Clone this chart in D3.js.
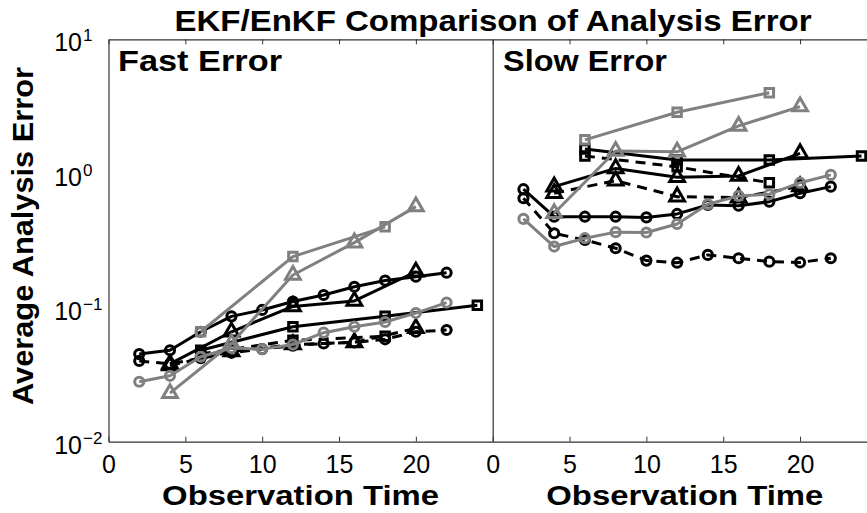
<!DOCTYPE html>
<html>
<head>
<meta charset="utf-8">
<script src="https://cdn.jsdelivr.net/npm/d3@7"></script>
<style>
  html,body{margin:0;padding:0;background:#fff;}
  svg{display:block;}
  text{font-family:"Liberation Sans",Arial,Helvetica,sans-serif;fill:#000;}
</style>
</head>
<body>
<svg id="chart" width="867" height="513"></svg>
<script>
// ---------- data ----------
const tCircle   = [2,4,6,8,10,12,14,16,18,20,22];
const tTriangle = [4,8,12,16,20];
const tSquare   = [6,12,18,24];
const tSquare3  = [6,12,18];

// Fast error panel
const fastSolidCircle  = [0.045,0.048,0.066,0.086,0.096,0.111,0.124,0.143,0.159,0.170,0.182];
const fastDashedCircle = [0.040,0.038,0.042,0.046,0.049,0.052,0.054,0.055,0.058,0.066,0.068];
const fastSolidTri     = [0.038,0.066,0.102,0.112,0.185];
const fastDashedTri    = [0.037,0.047,0.053,0.055,0.070];
const fastSolidSq      = [0.048,0.072,0.086,0.104];
const fastDashedSq     = [0.045,0.057,0.061];
const fastGrayCircle   = [0.028,0.031,0.043,0.050,0.049,0.053,0.065,0.072,0.078,0.091,0.109];
const fastGrayTri      = [0.023,0.054,0.175,0.305,0.566];
const fastGraySq       = [0.066,0.240,0.400];

// Slow error panel
const slowSolidCircle  = [0.763,0.476,0.476,0.476,0.470,0.499,0.582,0.574,0.616,0.712,0.797];
const slowDashedCircle = [0.653,0.358,0.319,0.277,0.224,0.216,0.247,0.233,0.220,0.217,0.233];
const slowSolidTri     = [0.797,1.09,0.937,0.958,1.41];
const slowDashedTri    = [0.712,0.884,0.671,0.660,0.800];
const slowSolidSq      = [1.52,1.26,1.26,1.35];
const slowDashedSq     = [1.35,1.12,0.853];
const slowGrayCircle   = [0.458,0.285,0.329,0.365,0.363,0.420,0.589,0.680,0.700,0.853,0.975];
const slowGrayTri      = [0.505,1.47,1.45,2.26,3.15];
const slowGraySq       = [1.78,2.86,4.00];

const xTicks = [0,5,10,15,20];
const yTicks = [0.01,0.1,1,10];
const yTickExp = ["−2","−1","0","1"];

const titleText = "EKF/EnKF Comparison of Analysis Error";
const panelTitles = ["Fast Error","Slow Error"];
const xLabel = "Observation Time";
const yLabel = "Average Analysis Error";

// ---------- layout ----------
const svg = d3.select("#chart");
const plotTop = 39.3, plotBottom = 441.7;
const panelLeft = [108.5, 492.7];
const panelWidth = 384.2;
const BLACK = "#000", GRAY = "#808080";

const y = d3.scaleLog().domain([0.01,10]).range([plotBottom, plotTop]);
const xs = panelLeft.map(l => d3.scaleLinear().domain([0,25]).range([l, l+panelWidth]));

// series table built from arrays
const series = [
  {p:0,t:tCircle,v:fastSolidCircle,c:BLACK,d:false,m:"circle"},
  {p:0,t:tCircle,v:fastDashedCircle,c:BLACK,d:true,m:"circle"},
  {p:0,t:tTriangle,v:fastSolidTri,c:BLACK,d:false,m:"triangle"},
  {p:0,t:tTriangle,v:fastDashedTri,c:BLACK,d:true,m:"triangle"},
  {p:0,t:tSquare,v:fastSolidSq,c:BLACK,d:false,m:"square"},
  {p:0,t:tSquare3,v:fastDashedSq,c:BLACK,d:true,m:"square"},
  {p:0,t:tCircle,v:fastGrayCircle,c:GRAY,d:false,m:"circle"},
  {p:0,t:tTriangle,v:fastGrayTri,c:GRAY,d:false,m:"triangle"},
  {p:0,t:tSquare3,v:fastGraySq,c:GRAY,d:false,m:"square"},
  {p:1,t:tCircle,v:slowSolidCircle,c:BLACK,d:false,m:"circle"},
  {p:1,t:tCircle,v:slowDashedCircle,c:BLACK,d:true,m:"circle"},
  {p:1,t:tTriangle,v:slowSolidTri,c:BLACK,d:false,m:"triangle"},
  {p:1,t:tTriangle,v:slowDashedTri,c:BLACK,d:true,m:"triangle"},
  {p:1,t:tSquare,v:slowSolidSq,c:BLACK,d:false,m:"square"},
  {p:1,t:tSquare3,v:slowDashedSq,c:BLACK,d:true,m:"square"},
  {p:1,t:tCircle,v:slowGrayCircle,c:GRAY,d:false,m:"circle"},
  {p:1,t:tTriangle,v:slowGrayTri,c:GRAY,d:false,m:"triangle"},
  {p:1,t:tSquare3,v:slowGraySq,c:GRAY,d:false,m:"square"},
];

// ---------- axes ----------
[0,1].forEach(p => {
  const x = xs[p];
  const gb = svg.append("g").attr("transform",`translate(0,${plotBottom})`)
    .call(d3.axisBottom(x).tickValues(xTicks).tickSizeInner(-5).tickSizeOuter(0).tickFormat(d3.format("d")));
  gb.select(".domain").attr("stroke","#333").attr("stroke-width",1.2);
  gb.selectAll(".tick line").attr("stroke","#333").attr("stroke-width",1);
  gb.selectAll(".tick text").attr("y",31.5).attr("dy",null)
    .style("font-size","25px").attr("fill","#000");
  gb.attr("font-family",null).attr("font-size",null);
  const gt = svg.append("g").attr("transform",`translate(0,${plotTop})`)
    .call(d3.axisTop(x).tickValues(xTicks).tickSizeInner(-5).tickSizeOuter(0).tickFormat(""));
  gt.select(".domain").attr("stroke","#333").attr("stroke-width",1.2);
  gt.selectAll(".tick line").attr("stroke","#333").attr("stroke-width",1);
  const gl = svg.append("g").attr("transform",`translate(${panelLeft[p]},0)`)
    .call(d3.axisLeft(y).tickValues(yTicks).tickSize(0).tickFormat(""));
  gl.select(".domain").attr("stroke","#333").attr("stroke-width",1.2);
  gl.selectAll(".tick line").remove();
  gl.selectAll(".tick text").remove();
  if (p === 0) {
    gl.selectAll(".tick").each(function(d){
      const g = d3.select(this);
      g.append("text").attr("x",82-panelLeft[0]).attr("y",11.6)
        .attr("text-anchor","end").style("font-size","25px").text("10");
      g.append("text").attr("x",83-panelLeft[0]).attr("y",1.6)
        .attr("text-anchor","start").style("font-size","17px").text(yTickExp[yTicks.indexOf(d)]);
    });
  }
  gl.attr("font-family",null).attr("font-size",null);
});

// ---------- series ----------
const symTypes = {circle:d3.symbolCircle, triangle:d3.symbolTriangle, square:d3.symbolSquare};
const symSizes = {circle:66, triangle:95, square:72};
const plot = svg.append("g");
series.forEach(s => {
  const x = xs[s.p];
  const pts = s.t.map((t,i)=>[t,s.v[i]]);
  const line = d3.line().x(d=>x(d[0])).y(d=>y(d[1]));
  plot.append("path").datum(pts)
    .attr("d",line).attr("fill","none").attr("stroke",s.c)
    .attr("stroke-width",3).attr("stroke-linejoin","round")
    .attr("stroke-dasharray", s.d ? "10,7" : null);
  const sym = d3.symbol().type(symTypes[s.m]).size(symSizes[s.m]);
  plot.selectAll(null).data(pts).enter().append("path")
    .attr("d",sym)
    .attr("transform",d=>`translate(${x(d[0])},${y(d[1])})`)
    .attr("fill","none").attr("stroke",s.c).attr("stroke-width",3);
});

// ---------- text ----------
svg.append("text").attr("x",493).attr("y",31).attr("text-anchor","middle")
  .style("font-size","30px").style("font-weight","bold")
  .attr("textLength",637).attr("lengthAdjust","spacingAndGlyphs").text(titleText);

[118,503].forEach((xp,i)=>{
  svg.append("text").attr("x",xp).attr("y",71)
    .style("font-size","30px").style("font-weight","bold")
    .attr("textLength",164).attr("lengthAdjust","spacingAndGlyphs").text(panelTitles[i]);
});

[0,1].forEach(p=>{
  svg.append("text").attr("x",panelLeft[p]+panelWidth/2).attr("y",505)
    .attr("text-anchor","middle")
    .style("font-size","28px").style("font-weight","bold")
    .attr("textLength",277).attr("lengthAdjust","spacingAndGlyphs").text(xLabel);
});

svg.append("text").attr("transform","translate(33,236) rotate(-90)")
  .attr("text-anchor","middle")
  .style("font-size","29px").style("font-weight","bold")
  .attr("textLength",338).attr("lengthAdjust","spacingAndGlyphs").text(yLabel);
</script>
</body>
</html>
